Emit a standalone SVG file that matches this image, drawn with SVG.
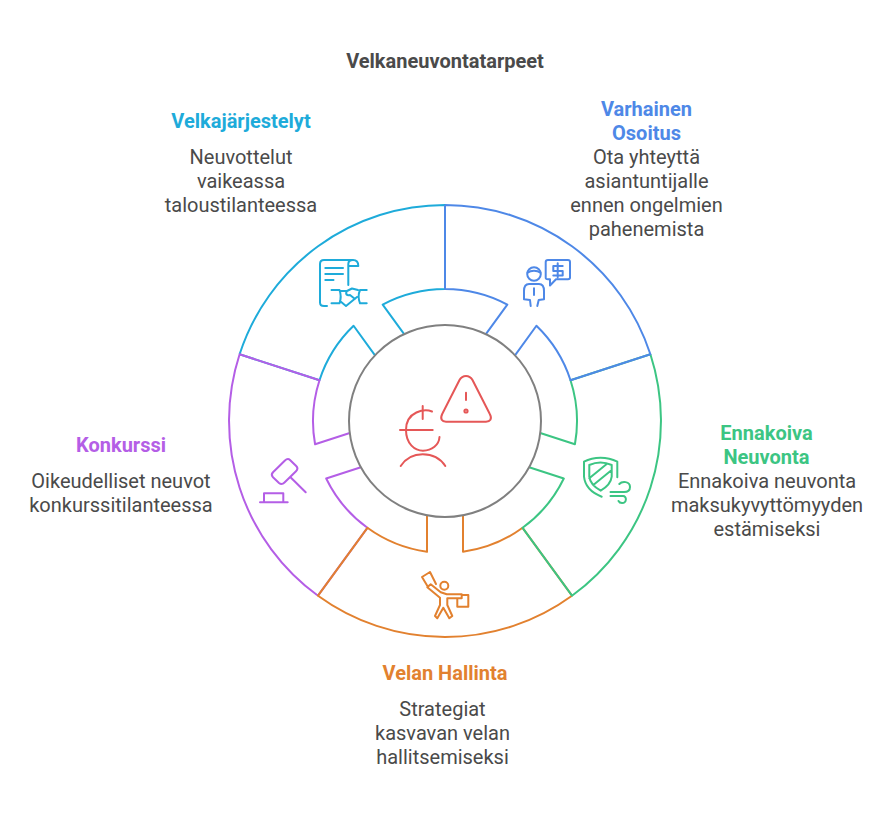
<svg xmlns="http://www.w3.org/2000/svg" width="896" height="818" viewBox="0 0 896 818">
<style>
text{font-family:Roboto,"Liberation Sans",sans-serif;text-anchor:middle;font-size:20px}
.t{font-weight:700}
.d{fill:#4a4a4a}
.l{fill:none;stroke-width:2;stroke-linejoin:round}
.i{fill:none;stroke-width:2;stroke-linejoin:round;stroke-linecap:round}
.blue{stroke:#4e88e7}.green{stroke:#3cc583}.orange{stroke:#e2812f}.purple{stroke:#b45ee6}.cyan{stroke:#1eabda}.red{stroke:#e55757}
</style>
<rect width="896" height="818" fill="#fff"/>
<text x="445" y="67.5" class="t" fill="#4a4a4a">Velkaneuvontatarpeet</text>
<g id="connectors">
<path class="l cyan" d="M239.6,354.3A216,216 0 0 1 445,205L445,289A132,132 0 0 0 382.69,304.62L404.13,334.13M375.01,355.29L353.57,325.78A132,132 0 0 0 319.5,380.2L239.6,354.3"/>
<path class="l purple" d="M318,595.7A216,216 0 0 1 239.6,354.3L319.5,380.2A132,132 0 0 0 315.07,444.29L349.75,433.02M360.87,467.26L326.19,478.53A132,132 0 0 0 367.4,527.8L318,595.7"/>
<path class="l orange" d="M572,595.7A216,216 0 0 1 318,595.7L367.4,527.8A132,132 0 0 0 427,551.77L427,515.3M463,515.3L463,551.77A132,132 0 0 0 522.6,527.8L572,595.7"/>
<path class="l green" d="M650.4,354.3A216,216 0 0 1 572,595.7L522.6,527.8A132,132 0 0 0 563.81,478.53L529.13,467.26M540.25,433.02L574.93,444.29A132,132 0 0 0 570.5,380.2L650.4,354.3"/>
<path class="l blue" d="M445,205A216,216 0 0 1 650.4,354.3L570.5,380.2A132,132 0 0 0 536.43,325.78L514.99,355.29M485.87,334.13L507.31,304.62A132,132 0 0 0 445,289L445,205"/>
</g>
<g id="center">
<circle cx="445" cy="421" r="96" fill="#fff" stroke="#808080" stroke-width="2"/>
<path class="i red" d="M459.5,380C462.5,374.5 469.5,374.5 472.5,380L489.8,414C492.5,419 490,421.7 486,421.7L446,421.7C442,421.7 439.8,419 442.2,414ZM466,392.7V400"/>
<circle class="i red" cx="466" cy="411" r="1.6"/>
<path class="i red" d="M432,411.5C425,408.5 406,411 406,430C406,444 415,450.7 423,450.7C432,450.7 439,445 439.5,437M422.7,406V419M400,430H432.7M400.7,466C406,458 414,454.3 422.7,454.3C432,454.3 440,458 445.3,466"/>
</g>
<g id="node-varhainen">
<text x="646.5" y="115.5" class="t" fill="#4e88e7">Varhainen</text>
<text x="646.5" y="139.5" class="t" fill="#4e88e7">Osoitus</text>
<text x="646.5" y="163.5" class="d">Ota yhteyttä</text>
<text x="646.5" y="187.5" class="d">asiantuntijalle</text>
<text x="646.5" y="211.5" class="d">ennen ongelmien</text>
<text x="646.5" y="235.5" class="d">pahenemista</text>
<circle class="i blue" cx="534" cy="274" r="6.8"/>
<path class="i blue" d="M527.5,272.7C531,270 537,270 540.5,272.7M530.7,306L530,300L524,299.3V291C524,286.5 526,284 529,284H539C542,284 544,286.5 544,291V299.3L538.7,300L537.3,306M534,288.3V295M548,260H568C569.5,260 570,260.5 570,262V277.5C570,279 569.5,279.3 568,279.3H556L550,285.5V279.3H548C546,279.3 545.7,279 545.7,277.5V262C545.7,260.5 546,260 548,260ZM562.7,266H553.3V271H562.7V275.5H553.3M557.7,263.3V277.3"/>
</g>
<g id="node-ennakoiva">
<text x="766.5" y="439.5" class="t" fill="#3cc583">Ennakoiva</text>
<text x="766.5" y="463.5" class="t" fill="#3cc583">Neuvonta</text>
<text x="767" y="487.5" class="d">Ennakoiva neuvonta</text>
<text x="767" y="511.5" class="d">maksukyvyttömyyden</text>
<text x="767" y="535.5" class="d">estämiseksi</text>
<path class="i green" d="M584,461.7C594,456.5 607,456.5 617.3,461.7V477.3M584,461.7V476.7C585,486 592,493 601.7,496.7M589.3,465C597,461.5 604,461.5 611.7,465V476.7C611,483 607,487 600.7,490.7C594,487 590,483 589.3,476.7ZM589.3,478.3L606.7,464M593.3,485L611.7,470M619.3,484C622,481 630,481 630,487C630,491 627,492 624,492H610.5M610.5,496H623C627,496 627,503 622,503C620,503 619,502 618.5,501"/>
</g>
<g id="node-velan">
<text x="445" y="679.5" class="t" fill="#e2812f">Velan Hallinta</text>
<text x="442.5" y="715.5" class="d">Strategiat</text>
<text x="442.5" y="739.5" class="d">kasvavan velan</text>
<text x="442.5" y="763.5" class="d">hallitsemiseksi</text>
<circle class="i orange" cx="444.3" cy="585.7" r="4"/>
<path class="i orange" d="M436,584L430,572L422,577L428,587M430.7,584.3L440.7,592.3L446.7,594.3H461.7V598.3H447.3V605L452.3,616L449.3,618.3L443.3,607.7L437.3,618.3L435,616L440,605V597.7L427.3,587.3ZM457.3,598.3V606.7H468.3V595H461.7"/>
</g>
<g id="node-konkurssi">
<text x="121" y="451.5" class="t" fill="#b45ee6">Konkurssi</text>
<text x="121" y="487.5" class="d">Oikeudelliset neuvot</text>
<text x="121" y="511.5" class="d">konkurssitilanteessa</text>
<path class="i purple" d="M284.7,460.8C286.5,459 288.5,458.5 290,460L296.2,466C298,467.8 297.7,469.5 296,471.2L284.5,482.5C282.7,484.3 281,484.6 279,483L273,477.3C271.3,475.5 271.3,474 273,472.3ZM291,477.7L305.7,492.3M264,502.3V493.3H283.3V502.3M260,502.3H287.7"/>
</g>
<g id="node-velkajarjestelyt">
<text x="241" y="127.5" class="t" fill="#1eabda">Velkajärjestelyt</text>
<text x="241" y="163.5" class="d">Neuvottelut</text>
<text x="241" y="187.5" class="d">vaikeassa</text>
<text x="241" y="211.5" class="d">taloustilanteessa</text>
<path class="i cyan" d="M327,306H324C321.5,306 320,304.5 320,302.5V264C320,261.5 321.5,260 324,260H353C356.5,260 358.3,262.5 358.3,266H348.3M348.3,264C348.3,261.5 350,260 353,260M348.3,264V285M325.3,268H343M325.3,274H343M325.3,280H333.5M331.5,290H339.5M331.5,303.3H339.5M339.5,290C341,294 341,299 339.5,303.3M360,290H366.7M360,303.3H366.7M360,290C358.3,294 358.3,299 360,303.3M340,301L346,306L357,297M341,291H347L352,288.5L358,290M347,291C345,294 347,296 350,295L355,299"/>
</g>
</svg>
